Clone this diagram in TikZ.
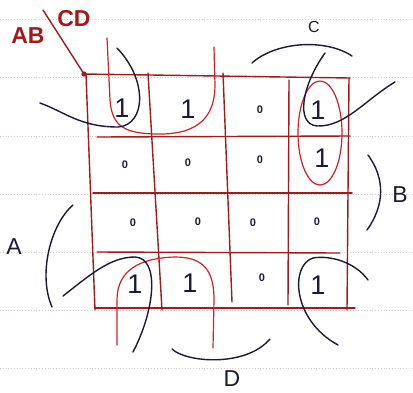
\documentclass[tikz,border=0pt]{standalone}
\usepackage{fontspec}
\setmainfont{Liberation Sans}
\definecolor{gridred}{HTML}{A41A1A}
\definecolor{loopred}{HTML}{D82020}
\definecolor{ink}{HTML}{1A1A3C}
\definecolor{ruling}{HTML}{D8CCD2}
\tikzset{
  gridline/.style={draw=gridred, line width=1.4pt, line cap=round},
  redloop/.style={draw=loopred, line width=1.2pt, line cap=round},
  inkloop/.style={draw=ink, line width=1.4pt, line cap=round},
  ruled/.style={draw=ruling, line width=0.8pt, dotted},
  one/.style={text=ink, font=\fontsize{27}{27}\selectfont, inner sep=0pt},
  zero/.style={text=ink, font=\bfseries\fontsize{11}{11}\selectfont, inner sep=0pt},
  redlabel/.style={text=gridred, font=\bfseries\fontsize{23}{23}\selectfont, inner sep=0pt},
  inklabel/.style={text=ink, font=\fontsize{23}{23}\selectfont, inner sep=0pt}
}
\begin{document}
\begin{tikzpicture}[x=1pt,y=-1pt]
\fill[white] (0,0) rectangle (413,392);
\useasboundingbox (0,0) rectangle (413,392);
% notebook ruling
\foreach \yy in {19,77,136,194,252,310,368}
  \draw[ruled] (0,\yy) -- (413,\yy);
% grid
\coordinate (corner) at (84,74);
\draw[gridline] (corner) -- (350,78);
\draw[gridline] (349,78) -- (347,310);
\draw[gridline] (95,308) -- (355,308);
\draw[gridline] (86,74) -- (95,310);
\draw[gridline] (148,73) -- (162,310);
\draw[gridline] (223,73) -- (232,302);
\draw[gridline] (289,80) -- (288,305);
\draw[gridline] (97,137) -- (350,136);
\draw[gridline] (93,193) -- (352,193);
\draw[gridline] (97,252) -- (340,253);
\coordinate (diagtop) at (43,10);
\draw[gridline] (diagtop) -- (corner);
\fill[gridred] (corner) circle (2.6pt);
% labels
\node[redlabel] (ab) at (28,36) {AB};
\node[redlabel] (cd) at (74,19) {CD};
\node[text=ink, font=\fontsize{16}{16}\selectfont, inner sep=0pt] (lc) at (314,27) {C};
\node[inklabel] (lb) at (400,195) {B};
\node[inklabel] (la) at (14,247) {A};
\node[inklabel] (ld) at (232,379) {D};
% cell values
\node[one] (c11) at (122,108) {1};
\node[one] (c12) at (188,109) {1};
\node[zero] (c13) at (260,110) {0};
\node[one] (c14) at (318,110) {1};
\node[zero] (c21) at (125,165) {0};
\node[zero] (c22) at (188,163) {0};
\node[zero] (c23) at (260,160) {0};
\node[one] (c24) at (322,158) {1};
\node[zero] (c31) at (133,223) {0};
\node[zero] (c32) at (198,222) {0};
\node[zero] (c33) at (253,223) {0};
\node[zero] (c34) at (317,222) {0};
\node[one] (c41) at (135,284) {1};
\node[one] (c42) at (190,283) {1};
\node[zero] (c43) at (262,278) {0};
\node[one] (c44) at (318,285) {1};
% red groupings
\draw[redloop] (107,38) -- (110,100) .. controls (112,127) and (125,134) .. (160,134)
  .. controls (200,134) and (215,115) .. (215,85) -- (214,47);
\draw[redloop] (320,133) ellipse [x radius=22pt, y radius=52pt];
\draw[redloop] (117,345) -- (117,300) .. controls (117,270) and (140,258) .. (175,257)
  .. controls (205,257) and (214,272) .. (214,300) -- (213,348);
% ink groupings
\draw[inkloop] (40,103) .. controls (65,112) and (80,127) .. (118,127)
  .. controls (146,125) and (148,80) .. (117,48);
\draw[inkloop] (395,82) .. controls (365,100) and (345,127) .. (317,126)
  .. controls (295,124) and (302,85) .. (325,53);
\draw[inkloop] (63,296) .. controls (90,275) and (110,257) .. (135,257)
  .. controls (160,258) and (155,310) .. (133,352);
\draw[inkloop] (368,280) .. controls (355,262) and (330,255) .. (313,258)
  .. controls (290,265) and (292,320) .. (338,345);
% brackets
\draw[inkloop] (252,63) .. controls (275,42) and (325,38) .. (352,56);
\draw[inkloop] (368,155) .. controls (385,178) and (385,205) .. (367,230);
\draw[inkloop] (73,205) .. controls (50,225) and (38,275) .. (52,307);
\draw[inkloop] (172,349) .. controls (185,362) and (245,368) .. (270,339);
\end{tikzpicture}
\end{document}
